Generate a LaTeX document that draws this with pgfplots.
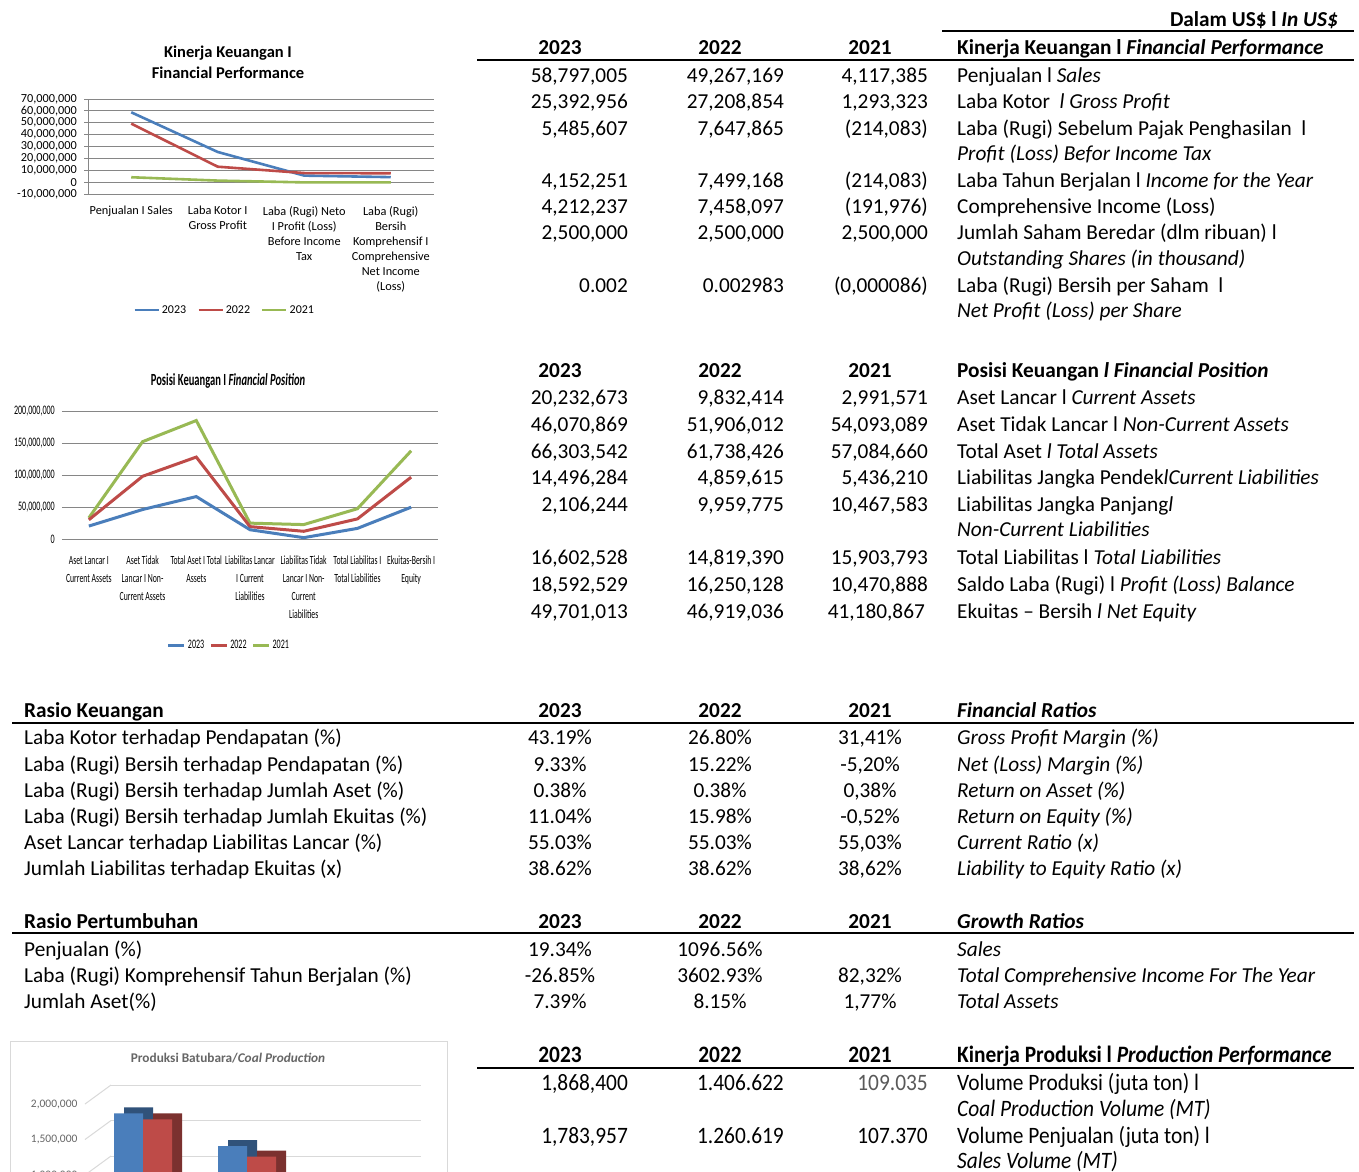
\documentclass[border=0pt]{standalone}
\usepackage{pgfplots}
\pgfplotsset{compat=1.18}
\usepackage{fontspec}
\setmainfont{Carlito}
\newfontfamily\cond[FakeStretch=0.62]{Carlito}
\newfontfamily\condp[FakeStretch=0.91]{Carlito}
\definecolor{xblue}{HTML}{4A7EBB}
\definecolor{xred}{HTML}{BE4B48}
\definecolor{xgreen}{HTML}{98B954}
\definecolor{gridgray}{HTML}{868686}
\newcommand{\fs}[1]{\fontsize{#1}{#1}\selectfont}
\newcommand{\TL}[3]{\node[anchor=base west,inner sep=0pt] at (#1,-#2-7) {#3};}
\newcommand{\TR}[3]{\node[anchor=base east,inner sep=0pt] at (#1,-#2-7) {#3};}
\newcommand{\TC}[3]{\node[anchor=base,inner sep=0pt] at (#1,-#2-7) {#3};}
\begin{document}
\begin{tikzpicture}[x=1pt,y=1pt]
\fill[white] (0,0) rectangle (1359,-1171);

% ================= TABLES =================
\begin{scope}[font=\fontsize{21.3}{25}\selectfont]
\TR{1338}{19}{\bfseries Dalam US\$ l \textit{In US\$}}
\draw[line width=2pt] (942,-31) -- (1354,-31);
% Block 1
\TC{560}{47}{\bfseries 2023}\TC{720}{47}{\bfseries 2022}\TC{870}{47}{\bfseries 2021}
\TL{957}{47}{\bfseries Kinerja Keuangan l \textit{Financial Performance}}
\draw[line width=2pt] (477,-60) -- (1354,-60);
\TR{628}{75}{58,797,005}\TR{784}{75}{49,267,169}\TR{928}{75}{4,117,385}\TL{957}{75}{Penjualan l \textit{Sales}}
\TR{628}{101}{25,392,956}\TR{784}{101}{27,208,854}\TR{928}{101}{1,293,323}\TL{957}{101}{Laba Kotor \ \textit{l Gross Profit}}
\TR{628}{128}{5,485,607}\TR{784}{128}{7,647,865}\TR{928}{128}{(214,083)}\TL{957}{128}{Laba (Rugi) Sebelum Pajak Penghasilan \ l}
\TL{957}{153}{\textit{Profit (Loss) Befor Income Tax}}
\TR{628}{180}{4,152,251}\TR{784}{180}{7,499,168}\TR{928}{180}{(214,083)}\TL{957}{180}{Laba Tahun Berjalan l \textit{Income for the Year}}
\TR{628}{206}{4,212,237}\TR{784}{206}{7,458,097}\TR{928}{206}{(191,976)}\TL{957}{206}{Comprehensive Income (Loss)}
\TR{628}{232}{2,500,000}\TR{784}{232}{2,500,000}\TR{928}{232}{2,500,000}\TL{957}{232}{Jumlah Saham Beredar (dlm ribuan) l}
\TL{957}{258}{\textit{Outstanding Shares (in thousand)}}
\TR{628}{285}{0.002}\TR{784}{285}{0.002983}\TR{928}{285}{(0,000086)}\TL{957}{285}{Laba (Rugi) Bersih per Saham \ l}
\TL{957}{310}{\textit{Net Profit (Loss) per Share}}
% Block 2
\TC{560}{370}{\bfseries 2023}\TC{720}{370}{\bfseries 2022}\TC{870}{370}{\bfseries 2021}
\TL{957}{370}{\bfseries Posisi Keuangan \textit{l Financial Position}}
\TR{628}{397}{20,232,673}\TR{784}{397}{9,832,414}\TR{928}{397}{2,991,571}\TL{957}{397}{Aset Lancar l \textit{Current Assets}}
\TR{628}{424}{46,070,869}\TR{784}{424}{51,906,012}\TR{928}{424}{54,093,089}\TL{957}{424}{Aset Tidak Lancar l \textit{Non-Current Assets}}
\TR{628}{451}{66,303,542}\TR{784}{451}{61,738,426}\TR{928}{451}{57,084,660}\TL{957}{451}{Total Aset \textit{l Total Assets}}
\TR{628}{477}{14,496,284}\TR{784}{477}{4,859,615}\TR{928}{477}{5,436,210}\TL{957}{477}{Liabilitas Jangka Pendek\textit{lCurrent Liabilities}}
\TR{628}{504}{2,106,244}\TR{784}{504}{9,959,775}\TR{928}{504}{10,467,583}\TL{957}{504}{Liabilitas Jangka Panjang\textit{l}}
\TL{957}{529}{\textit{Non-Current Liabilities}}
\TR{628}{557}{16,602,528}\TR{784}{557}{14,819,390}\TR{928}{557}{15,903,793}\TL{957}{557}{Total Liabilitas l \textit{Total Liabilities}}
\TR{628}{584}{18,592,529}\TR{784}{584}{16,250,128}\TR{928}{584}{10,470,888}\TL{957}{584}{Saldo Laba (Rugi) l \textit{Profit (Loss) Balance}}
\TR{628}{611}{49,701,013}\TR{784}{611}{46,919,036}\TR{925}{611}{41,180,867}\TL{957}{611}{Ekuitas -- Bersih \textit{l Net Equity}}
% Block 3
\TL{24}{710}{\bfseries Rasio Keuangan}
\TC{560}{710}{\bfseries 2023}\TC{720}{710}{\bfseries 2022}\TC{870}{710}{\bfseries 2021}
\TL{957}{710}{\bfseries\itshape Financial Ratios}
\draw[line width=2pt] (12,-723) -- (1354,-723);
\TL{24}{737}{Laba Kotor terhadap Pendapatan (\%)}\TC{560}{737}{43.19\%}\TC{720}{737}{26.80\%}\TC{870}{737}{31,41\%}\TL{957}{737}{\itshape Gross Profit Margin (\%)}
\TL{24}{764}{Laba (Rugi) Bersih terhadap Pendapatan (\%)}\TC{560}{764}{9.33\%}\TC{720}{764}{15.22\%}\TC{870}{764}{-5,20\%}\TL{957}{764}{\itshape Net (Loss) Margin (\%)}
\TL{24}{790}{Laba (Rugi) Bersih terhadap Jumlah Aset (\%)}\TC{560}{790}{0.38\%}\TC{720}{790}{0.38\%}\TC{870}{790}{0,38\%}\TL{957}{790}{\itshape Return on Asset (\%)}
\TL{24}{816}{Laba (Rugi) Bersih terhadap Jumlah Ekuitas (\%)}\TC{560}{816}{11.04\%}\TC{720}{816}{15.98\%}\TC{870}{816}{-0,52\%}\TL{957}{816}{\itshape Return on Equity (\%)}
\TL{24}{842}{Aset Lancar terhadap Liabilitas Lancar (\%)}\TC{560}{842}{55.03\%}\TC{720}{842}{55.03\%}\TC{870}{842}{55,03\%}\TL{957}{842}{\itshape Current Ratio (x)}
\TL{24}{868}{Jumlah Liabilitas terhadap Ekuitas (x)}\TC{560}{868}{38.62\%}\TC{720}{868}{38.62\%}\TC{870}{868}{38,62\%}\TL{957}{868}{\itshape Liability to Equity Ratio (x)}
% Block 4
\TL{24}{921}{\bfseries Rasio Pertumbuhan}
\TC{560}{921}{\bfseries 2023}\TC{720}{921}{\bfseries 2022}\TC{870}{921}{\bfseries 2021}
\TL{957}{921}{\bfseries\itshape Growth Ratios}
\draw[line width=2pt] (12,-933) -- (1354,-933);
\TL{24}{949}{Penjualan (\%)}\TC{560}{949}{19.34\%}\TC{720}{949}{1096.56\%}\TL{957}{949}{\itshape Sales}
\TL{24}{975}{Laba (Rugi) Komprehensif Tahun Berjalan (\%)}\TC{560}{975}{-26.85\%}\TC{720}{975}{3602.93\%}\TC{870}{975}{82,32\%}\TL{957}{975}{\itshape Total Comprehensive Income For The Year}
\TL{24}{1001}{Jumlah Aset(\%)}\TC{560}{1001}{7.39\%}\TC{720}{1001}{8.15\%}\TC{870}{1001}{1,77\%}\TL{957}{1001}{\itshape Total Assets}
\end{scope}
% Block 5
\begin{scope}[font=\condp\fontsize{23.5}{27}\selectfont]
\TC{560}{1055}{\bfseries 2023}\TC{720}{1055}{\bfseries 2022}\TC{870}{1055}{\bfseries 2021}
\TL{957}{1055}{\bfseries Kinerja Produksi l \textit{Production Performance}}
\draw[line width=2pt] (477,-1068) -- (1354,-1068);
\TR{628}{1083}{1,868,400}\TR{784}{1083}{1.406.622}\TR{928}{1083}{\color{black!65}109.035}\TL{957}{1083}{Volume Produksi (juta ton) l}
\TL{957}{1109}{\itshape Coal Production Volume (MT)}
\TR{628}{1136}{1,783,957}\TR{784}{1136}{1.260.619}\TR{928}{1136}{107.370}\TL{957}{1136}{Volume Penjualan (juta ton) l}
\TL{957}{1161}{\itshape Sales Volume (MT)}
\end{scope}

% ================= CHART 1 =================
\node[font=\bfseries\fontsize{16.5}{21}\selectfont, align=center] at (228,-62.5) {Kinerja Keuangan I\\Financial Performance};
\begin{axis}[
  at={(88pt,-194pt)}, anchor=south west,
  width=346pt, height=95pt, scale only axis,
  xmin=-0.5, xmax=3.5, ymin=-10000000, ymax=70000000,
  ytick distance=10000000, scaled y ticks=false,
  /pgf/number format/fixed, /pgf/number format/1000 sep={,},
  /pgf/number format/assume math mode=true,
  axis y line*=left, axis x line*=bottom,
  x axis line style={draw=none}, y axis line style={gridgray, line width=0.8pt},
  xtick style={draw=none}, ytick style={gridgray, line width=0.8pt},
  tick align=outside, major tick length=4pt,
  ymajorgrids, major grid style={gridgray, line width=0.8pt},
  yticklabel style={font=\fs{12.3}, inner sep=1pt, xshift=-6pt},
  xtick={0,1,2,3},
  xticklabels={{Penjualan I Sales},{Laba Kotor I\\Gross Profit},{Laba (Rugi) Neto\\I Profit (Loss)\\Before Income\\Tax},{Laba (Rugi)\\Bersih\\Komprehensif I\\Comprehensive\\Net Income\\(Loss)}},
  xticklabel style={font=\fontsize{12.3}{15}\selectfont, align=center, anchor=north, inner sep=0pt, yshift=-8pt},
  no markers,
  legend columns=3,
  legend style={at={(0.395,-1.22)}, anchor=center, draw=none, fill=none, font=\fs{12}, inner sep=0pt,
    /tikz/every even column/.append style={column sep=9pt}},
  legend image code/.code={\draw[#1] (0pt,0pt) -- (24pt,0pt);},
]
\addplot[xblue, line width=2.6pt] coordinates {(0,58797005) (1,25392956) (2,5485607) (3,4212237)};
\addplot[xred, line width=2.6pt] coordinates {(0,49267169) (1,13000000) (2,7647865) (3,7458097)};
\addplot[xgreen, line width=2.6pt] coordinates {(0,4117385) (1,1293323) (2,-214083) (3,-191976)};
\legend{2023,2022,2021}
\end{axis}

% ================= CHART 2 =================
\node[font=\cond\bfseries\fs{17}] at (228,-381) {Posisi Keuangan I \textit{Financial Position}};
\begin{axis}[
  at={(62pt,-539pt)}, anchor=south west,
  width=376pt, height=128pt, scale only axis,
  xmin=-0.5, xmax=6.5, ymin=0, ymax=200000000,
  ytick distance=50000000, scaled y ticks=false,
  /pgf/number format/fixed, /pgf/number format/1000 sep={,},
  /pgf/number format/assume math mode=true,
  axis line style={draw=none}, tick style={draw=none},
  ymajorgrids, major grid style={gridgray, line width=1pt},
  yticklabel style={font=\cond\fs{13}, inner sep=2pt, xshift=-5pt},
  xtick={0,...,6},
  xticklabels={{Aset Lancar I\\Current Assets},{Aset Tidak\\Lancar I Non-\\Current Assets},{Total Aset I Total\\Assets},{Liabilitas Lancar\\I Current\\Liabilities},{Liabilitas Tidak\\Lancar I Non-\\Current\\Liabilities},{Total Liabilitas I\\Total Liabilities},{Ekuitas-Bersih I\\Equity}},
  xticklabel style={font=\cond\fontsize{12.5}{18}\selectfont, align=center, anchor=north, inner sep=0pt, yshift=-17pt},
  stack plots=y, no markers,
  legend columns=3,
  legend style={at={(0.444,-0.83)}, anchor=center, draw=none, fill=none, font=\cond\fs{13}, inner sep=0pt,
    /tikz/every even column/.append style={column sep=3pt}},
  legend image code/.code={\draw[#1] (0pt,0pt) -- (16pt,0pt);},
]
\addplot[xblue, line width=3pt] coordinates {(0,20232673) (1,46070869) (2,66303542) (3,14496284) (4,2106244) (5,16602528) (6,49701013)};
\addplot[xred, line width=3pt] coordinates {(0,9832414) (1,51906012) (2,61738426) (3,4859615) (4,9959775) (5,14819390) (6,46919036)};
\addplot[xgreen, line width=3pt] coordinates {(0,2991571) (1,54093089) (2,57084660) (3,5436210) (4,10467583) (5,15903793) (6,41180867)};
\legend{2023,2022,2021}
\end{axis}

% ================= CHART 3 =================
\draw[black!15, line width=1pt] (10,-1041) rectangle (447,-1220);
\node[font=\bfseries\fs{13.3}, text=black!60] at (228,-1058) {Produksi Batubara/\textit{Coal Production}};
\begin{axis}[
  at={(85pt,-1246pt)}, anchor=south west,
  width=310pt, height=142pt, scale only axis,
  xmin=-0.558, xmax=2.423, ymin=0, ymax=2000000,
  ytick distance=500000, scaled y ticks=false,
  /pgf/number format/fixed, /pgf/number format/1000 sep={,},
  /pgf/number format/assume math mode=true,
  axis line style={draw=none}, tick style={draw=none},
  ymajorgrids, major grid style={black!15, line width=1pt, xshift=26pt, yshift=19pt},
  yticklabel style={font=\fs{11.5}, text=black!60, xshift=-4pt},
  xtick=\empty,
  ybar, bar width=29pt, clip=false,
]
\addplot[fill=xblue!65!black, draw=none, bar shift=-14.5pt, xshift=10pt, yshift=6pt] coordinates {(0,1868400) (1,1406622) (2,109035)};
\addplot[fill=xblue, draw=none, bar shift=-14.5pt] coordinates {(0,1868400) (1,1406622) (2,109035)};
\addplot[fill=xred!65!black, draw=none, bar shift=14.5pt, xshift=10pt, yshift=6pt] coordinates {(0,1783957) (1,1260619) (2,107370)};
\addplot[fill=xred, draw=none, bar shift=14.5pt] coordinates {(0,1783957) (1,1260619) (2,107370)};
\pgfplotsinvokeforeach{0,500000,1000000,1500000,2000000}{
  \draw[black!15, line width=1pt] ({rel axis cs:0,0} |- {axis cs:0,#1}) -- ++(26pt,19pt);
}
\end{axis}
\pgfresetboundingbox
\useasboundingbox (0,0) rectangle (1359,-1171);
\end{tikzpicture}
\end{document}
